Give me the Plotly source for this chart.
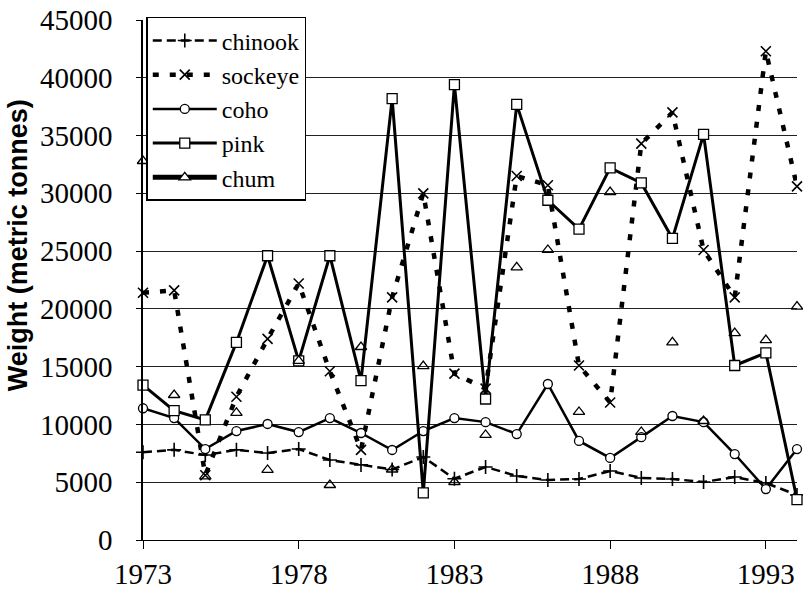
import plotly.graph_objects as go

years = list(range(1973, 1995))

chinook = [7600, 7800, 7350, 7800, 7530, 7870, 6920, 6500, 6100, 7180, 5300,
           6320, 5540, 5190, 5280, 5970, 5370, 5280, 5020, 5450, 4930, 3900]
sockeye = [21400, 21600, 5600, 12400, 17400, 22200, 14600, 7800, 21000, 30000, 14400,
           13100, 31500, 30700, 15100, 11900, 34300, 37000, 25100, 21000, 42300, 30600]
coho = [11400, 10550, 7870, 9430, 10040, 9340, 10550, 9260, 7790, 9430, 10550,
        10200, 9170, 13500, 8570, 7100, 8900, 10730, 10200, 7440, 4410, 7870]
pink = [13400, 11200, 10400, 17100, 24600, 15500, 24600, 13800, 38200, 4070, 39400,
        12200, 37700, 29400, 26900, 32200, 30900, 26100, 35100, 15100, 16200, 3500]
chum = [32800, 12550, 5500, 11000, 6060, 15500, 4760, 16700, 6100, 15050, 5020,
        9090, 23600, 25100, 11080, 30100, 9350, 17100, 10300, 17900, 17300, 20200]

x_ticks = [1973, 1978, 1983, 1988, 1993]
y_ticks = list(range(0, 45001, 5000))
y_title = "Weight (metric tonnes)"

serif = "Liberation Serif"
sans = "Liberation Sans"

fig = go.Figure()

fig.add_trace(go.Scatter(
    x=years, y=chinook, name="chinook", mode="lines+markers", legendgroup="a",
    cliponaxis=False,
    line=dict(color="black", width=2.5, dash="9px,5px"),
    marker=dict(symbol="cross-thin-open", size=10, line=dict(color="black", width=1.6)),
))
fig.add_trace(go.Scatter(
    x=years, y=sockeye, name="sockeye", mode="lines+markers", legendgroup="b",
    cliponaxis=False,
    line=dict(color="black", width=4.5, dash="6px,11px"),
    marker=dict(symbol="x-thin-open", size=10, line=dict(color="black", width=1.6)),
))
fig.add_trace(go.Scatter(
    x=years, y=coho, name="coho", mode="lines+markers", legendgroup="c",
    cliponaxis=False,
    line=dict(color="black", width=2.5),
    marker=dict(symbol="circle", size=9, color="white", line=dict(color="black", width=1.3)),
))
fig.add_trace(go.Scatter(
    x=years, y=pink, name="pink", mode="lines+markers", legendgroup="d",
    cliponaxis=False,
    line=dict(color="black", width=3),
    marker=dict(symbol="square", size=10, color="white", line=dict(color="black", width=1.3)),
))
fig.add_trace(go.Scatter(
    x=years, y=chum, name="chum", mode="markers", showlegend=False,
    cliponaxis=False,
    marker=dict(symbol="triangle-up-open", size=10, color="black", line=dict(color="black", width=1.3)),
))
# legend entry for chum (line + marker, as in the original key)
fig.add_trace(go.Scatter(
    x=[None], y=[None], name="chum", mode="lines+markers", legendgroup="e",
    line=dict(color="black", width=5),
    marker=dict(symbol="triangle-up", size=10, color="white", line=dict(color="black", width=1.3)),
))

fig.update_layout(
    width=803, height=593,
    margin=dict(l=143, r=6, t=20, b=53, autoexpand=False),
    paper_bgcolor="white", plot_bgcolor="white",
    font=dict(family=serif, color="black", size=24),
    showlegend=True,
    legend=dict(
        x=0.005, y=1.006, xanchor="left", yanchor="top",
        bgcolor="white", bordercolor="black", borderwidth=1.5,
        font=dict(family=serif, size=24, color="black"),
        itemwidth=64, tracegroupgap=0,
    ),
    xaxis=dict(
        range=[1973, 1994], tickvals=x_ticks, ticktext=[str(v) for v in x_ticks],
        showgrid=False, zeroline=False, automargin=False,
        showline=True, linecolor="black", linewidth=1,
        ticks="outside", ticklen=8, tickcolor="black",
        tickfont=dict(family=serif, size=29), ticklabeloverflow="allow",
    ),
    yaxis=dict(
        range=[0, 45000], tickvals=y_ticks, ticktext=[str(v) for v in y_ticks],
        showgrid=True, gridcolor="#222222", gridwidth=1, zeroline=False, automargin=False,
        showline=True, linecolor="black", linewidth=1.5,
        ticks="outside", ticklen=5, tickcolor="black",
        tickfont=dict(family=serif, size=29), ticklabelstandoff=18,
        ticklabeloverflow="allow",
    ),
    annotations=[dict(
        text="<b>" + y_title + "</b>", xref="paper", yref="paper",
        x=-0.191, y=0.567, xanchor="center", yanchor="middle",
        textangle=-90, showarrow=False,
        font=dict(family=sans, size=27, color="black"),
    )],
)

# remove the page's default 8px body margin so the figure fills the window
fig.write_html("out.html", config={"displayModeBar": False},
               post_script="document.body.style.margin='0';")
